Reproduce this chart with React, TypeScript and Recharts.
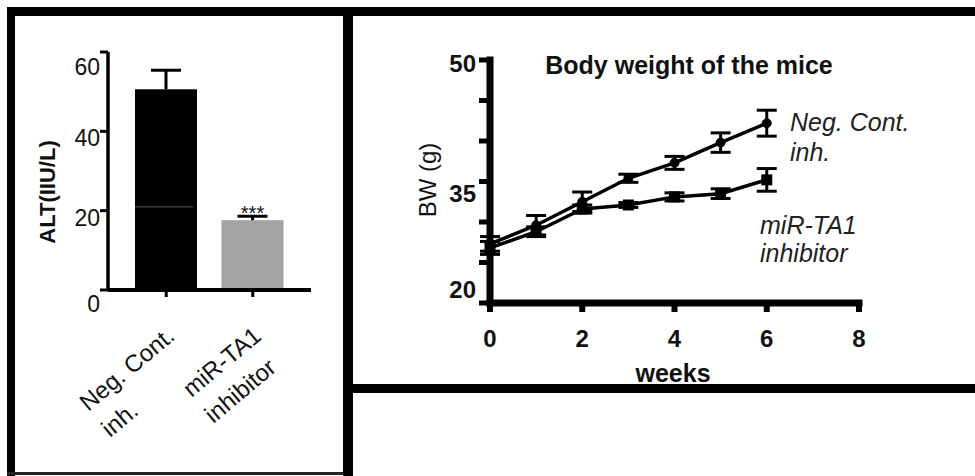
import { Bar, BarChart, ErrorBar, Line, LineChart, XAxis, YAxis } from 'recharts';

// ALT panel
const ALT_GROUPS = ['Neg. Cont.|inh.', 'miR-TA1|inhibitor'];
const ALT_MEAN = [50.6, 17.6];
const ALT_SEM = [4.8, 1.0];
const ALT_SIG = ['', '***'];
const ALT_INNER = [21, null];
const ALT_TICKS = [0, 20, 40, 60];

// body weight panel
const WEEKS = [0, 1, 2, 3, 4, 5, 6];
const BW_NEG = [27.3, 29.6, 32.5, 35.4, 37.3, 39.8, 42.2];
const BW_NEG_ERR = [0.9, 1.2, 1.2, 0.5, 0.8, 1.2, 1.6];
const BW_INH = [26.8, 28.8, 31.6, 32.1, 33.1, 33.5, 35.2];
const BW_INH_ERR = [0.8, 0.6, 0.5, 0.3, 0.5, 0.6, 1.4];
const BW_TICKS = [20, 25, 30, 35, 40, 45, 50];
const BW_LABELLED = [20, 35, 50];
const WEEK_TICKS = [0, 2, 4, 6, 8];

const FONT = '"Liberation Sans", Arial, sans-serif';
const BAR_FILLS = ['#000000', '#a3a3a3'];

const altData = ALT_GROUPS.map((g, i) => ({
  group: g,
  mean: ALT_MEAN[i],
  sem: ALT_SEM[i],
  sig: ALT_SIG[i],
  inner: ALT_INNER[i],
  fill: BAR_FILLS[i],
}));

const bwData = WEEKS.map((w, i) => ({
  week: w,
  neg: BW_NEG[i],
  negErr: BW_NEG_ERR[i],
  inh: BW_INH[i],
  inhErr: BW_INH_ERR[i],
}));

let measureCtx: CanvasRenderingContext2D | null = null;
function textWidth(s: string, font: string): number {
  if (!measureCtx && typeof document !== 'undefined') {
    measureCtx = document.createElement('canvas').getContext('2d');
  }
  if (!measureCtx) return s.length * 13;
  measureCtx.font = font;
  return measureCtx.measureText(s).width;
}

function AltBar(props: any) {
  const { x, y, width, height, payload } = props;
  const ppu = height / payload.mean;
  const top = y - payload.sem * ppu;
  const cx = x + width / 2;
  const innerY = payload.inner != null ? y + height - payload.inner * ppu : null;
  return (
    <g>
      <rect x={x} y={y} width={width} height={height} fill={payload.fill} />
      {innerY != null && (
        <line x1={x} x2={x + width - 4} y1={innerY} y2={innerY} stroke="#3a3a3a" strokeWidth={1.5} />
      )}
      <line x1={cx} x2={cx} y1={y} y2={top} stroke="#000" strokeWidth={3} />
      <line x1={cx - 15} x2={cx + 15} y1={top} y2={top} stroke="#000" strokeWidth={3} />
      {payload.sig && (
        <text x={cx} y={top + 4} textAnchor="middle" fontFamily={FONT} fontSize={20} fill="#111">
          {payload.sig}
        </text>
      )}
    </g>
  );
}

const ALT_LABEL_SHIFT: Record<number, number> = { 0: 14, 20: 7, 40: 7, 60: 15 };

function AltYTick({ x, y, payload }: any) {
  return (
    <text x={x} y={y + (ALT_LABEL_SHIFT[payload.value] ?? 0)} dy="0.355em" textAnchor="end"
      fontFamily={FONT} fontSize={23} fill="#111">
      {payload.value}
    </text>
  );
}

function AltXTick({ x, y, payload }: any) {
  const [l1, l2] = String(payload.value).split('|');
  const fs = 24;
  const w1 = textWidth(l1, `${fs}px ${FONT}`);
  const end = -19;
  return (
    <g transform={`translate(${x},${y}) rotate(-40)`}>
      <text x={end} y={38} textAnchor="end" fontFamily={FONT} fontSize={fs} fill="#111">{l1}</text>
      <text x={end - w1} y={72} textAnchor="start" fontFamily={FONT} fontSize={fs} fill="#111">{l2}</text>
    </g>
  );
}

const BW_LABEL_SHIFT: Record<number, number> = { 20: -14, 35: 12, 50: 3 };

function BwYTick({ x, y, payload }: any) {
  if (!BW_LABELLED.includes(payload.value)) return <g />;
  return (
    <text x={x - 3} y={y + (BW_LABEL_SHIFT[payload.value] ?? 0)} dy="0.355em" textAnchor="end"
      fontFamily={FONT} fontSize={24} fontWeight="bold" fill="#111">
      {payload.value}
    </text>
  );
}

function BwXTick({ x, y, payload }: any) {
  return (
    <text x={x} y={y + 26} dy="0.355em" textAnchor="middle" fontFamily={FONT} fontSize={24}
      fontWeight="bold" fill="#111">
      {payload.value}
    </text>
  );
}

function SquareDot({ cx, cy, index }: any) {
  return <rect key={`sq-${index}`} x={cx - 5.5} y={cy - 5.5} width={11} height={11} fill="#000" />;
}

export default function App() {
  return (
    <div style={{ position: 'absolute', left: 0, top: 0, width: 975, height: 476, background: '#fff', overflow: 'hidden' }}>
      <div style={{ position: 'absolute', left: 0, top: 0 }}>
        <BarChart width={343} height={472} data={altData} margin={{ top: 52, left: 48, right: 32, bottom: 30 }}>
          <XAxis
            dataKey="group"
            height={152}
            interval={0}
            padding={{ left: 15, right: 15 }}
            axisLine={{ stroke: '#000', strokeWidth: 4 }}
            tickLine={{ stroke: '#000', strokeWidth: 3 }}
            tickSize={7}
            tickMargin={0}
            tick={<AltXTick />}
          />
          <YAxis
            width={60}
            domain={[0, 60]}
            ticks={ALT_TICKS}
            axisLine={{ stroke: '#000', strokeWidth: 3.5 }}
            tickLine={{ stroke: '#000', strokeWidth: 3 }}
            tickSize={8}
            tickMargin={0}
            tick={<AltYTick />}
          />
          <Bar dataKey="mean" barSize={62} shape={<AltBar />} isAnimationActive={false} />
        </BarChart>
      </div>

      <div style={{ position: 'absolute', left: 353, top: 16 }}>
        <LineChart width={622} height={368} data={bwData} margin={{ top: 44, left: 37, right: 116, bottom: 21 }}>
          <XAxis
            dataKey="week"
            type="number"
            domain={[0, 8]}
            ticks={WEEK_TICKS}
            height={60}
            axisLine={{ stroke: '#000', strokeWidth: 7, strokeLinecap: 'square' }}
            tickLine={{ stroke: '#000', strokeWidth: 6 }}
            tickSize={9}
            tickMargin={0}
            tick={<BwXTick />}
          />
          <YAxis
            width={100}
            domain={[20, 50]}
            ticks={BW_TICKS}
            interval={0}
            axisLine={{ stroke: '#000', strokeWidth: 7, strokeLinecap: 'square' }}
            tickLine={{ stroke: '#000', strokeWidth: 5 }}
            tickSize={11}
            tickMargin={0}
            tick={<BwYTick />}
          />
          <Line
            dataKey="inh"
            stroke="#000"
            strokeWidth={3.5}
            dot={<SquareDot />}
            isAnimationActive={false}
          >
            <ErrorBar dataKey="inhErr" direction="y" width={10} stroke="#000" strokeWidth={3} isAnimationActive={false} />
          </Line>
          <Line
            dataKey="neg"
            stroke="#000"
            strokeWidth={3.5}
            dot={{ r: 4.5, fill: '#000', stroke: '#000', strokeWidth: 1 }}
            isAnimationActive={false}
          >
            <ErrorBar dataKey="negErr" direction="y" width={10} stroke="#000" strokeWidth={3} isAnimationActive={false} />
          </Line>
        </LineChart>
      </div>

      <svg width={975} height={476} style={{ position: 'absolute', left: 0, top: 0, pointerEvents: 'none' }}>
        <rect x={7} y={7} width={968} height={9} fill="#000" />
        <rect x={7} y={7} width={8} height={469} fill="#000" />
        <rect x={343} y={7} width={10} height={469} fill="#000" />
        <rect x={353} y={384} width={622} height={9} fill="#000" />
        <rect x={7} y={472} width={336} height={3} fill="#222" />

        <text transform="translate(47,192) rotate(-90)" textAnchor="middle" dy="0.355em"
          fontFamily={FONT} fontSize={22} fontWeight="bold" fill="#111">ALT(IIU/L)</text>

        <text x={689} y={65} dy="0.355em" textAnchor="middle" fontFamily={FONT} fontSize={25}
          fontWeight="bold" fill="#111">Body weight of the mice</text>
        <text transform="translate(427,180) rotate(-90)" textAnchor="middle" dy="0.355em"
          fontFamily={FONT} fontSize={24} fill="#111">BW (g)</text>
        <text x={673} y={373} dy="0.355em" textAnchor="middle" fontFamily={FONT} fontSize={25}
          fontWeight="bold" fill="#111">weeks</text>

        <g fontFamily={FONT} fontSize={25} fontStyle="italic" fill="#222">
          <text x={790} y={122} dy="0.355em">Neg. Cont.</text>
          <text x={790} y={152} dy="0.355em">inh.</text>
          <text x={760} y={225} dy="0.355em">miR-TA1</text>
          <text x={760} y={253} dy="0.355em">inhibitor</text>
        </g>
      </svg>
    </div>
  );
}
